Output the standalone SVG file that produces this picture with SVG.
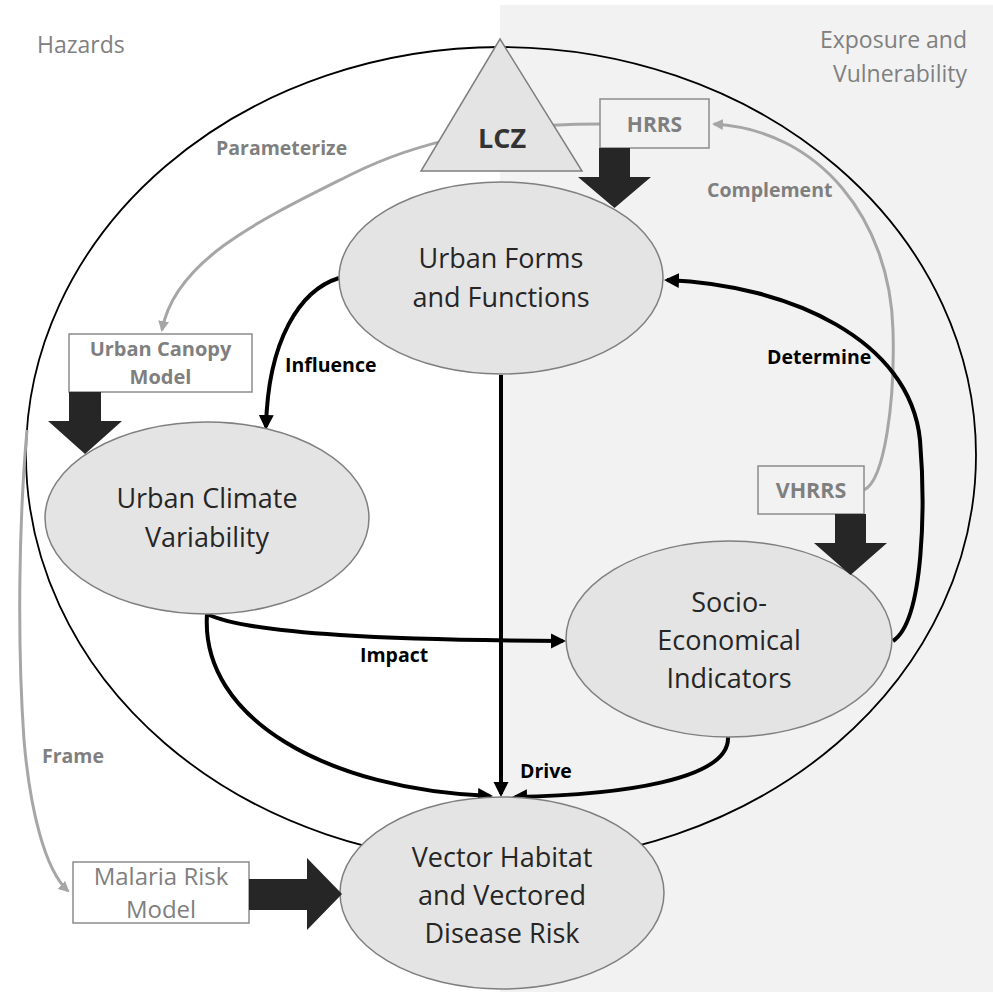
<svg xmlns="http://www.w3.org/2000/svg" width="993" height="994" viewBox="0 0 993 994">
<style>
.node{fill:#e4e4e4;stroke:#7f7f7f;stroke-width:1.5}
.nt{font-family:"Open Sans","Liberation Sans",sans-serif;font-size:27px;fill:#262626;text-anchor:middle}
.box{stroke:#8c8c8c;stroke-width:1.5}
.bt{font-family:"Open Sans","Liberation Sans",sans-serif;font-weight:bold;fill:#7f7f7f;text-anchor:middle}
.blk{fill:#262626}
.bc{fill:none;stroke:#000;stroke-width:4}
.gc{fill:none;stroke:#a6a6a6;stroke-width:3}
.lb{font-family:"Open Sans","Liberation Sans",sans-serif;font-weight:bold;font-size:19.5px;fill:#000}
.lg{font-family:"Open Sans","Liberation Sans",sans-serif;font-weight:bold;font-size:19.5px;fill:#7f7f7f}
.zone{font-family:"Open Sans","Liberation Sans",sans-serif;font-size:23px;fill:#808080}
</style>
<defs>
<marker id="ab" markerUnits="userSpaceOnUse" markerWidth="16" markerHeight="16" refX="12" refY="7.5" orient="auto">
<path d="M0,0 L15,7.5 L0,15 z" fill="#000"/>
</marker>
<marker id="ag" markerUnits="userSpaceOnUse" markerWidth="14" markerHeight="14" refX="9" refY="5.5" orient="auto">
<path d="M0,0 L11,5.5 L0,11 z" fill="#a6a6a6"/>
</marker>
</defs>
<rect x="500" y="5" width="493" height="987" fill="#f2f2f2"/>
<ellipse cx="501" cy="455" rx="475" ry="408" fill="none" stroke="#000" stroke-width="1.8"/>
<text class="zone" x="37" y="53">Hazards</text>
<text class="zone" x="967" y="48" text-anchor="end">Exposure and</text>
<text class="zone" x="967" y="82" text-anchor="end">Vulnerability</text>
<g id="connectors">
<path class="gc" d="M600,124 C500,124 420,140 350,175 C260,220 175,260 162,330" marker-end="url(#ag)"/>
<path class="gc" d="M864,490 C885,480 895,400 893,330 C890,220 820,130 714,124" marker-end="url(#ag)"/>
<path class="gc" d="M27,430 C19,520 17,640 24,740 C30,810 45,870 68,891" marker-end="url(#ag)"/>
<path class="bc" d="M339,278 C300,290 268,340 266,427" marker-end="url(#ab)"/>
<path class="bc" d="M501,375 L501,794" marker-end="url(#ab)"/>
<path class="bc" d="M207,614 C250,635 400,640 563,641" marker-end="url(#ab)"/>
<path class="bc" d="M207,614 C200,720 330,790 490,796" marker-end="url(#ab)"/>
<path class="bc" d="M728,737 C730,780 620,795 515,797" marker-end="url(#ab)"/>
<path class="bc" d="M893,641 C925,620 925,500 920,440 C910,340 790,285 667,280" marker-end="url(#ab)"/>
<text class="lg" x="216" y="155">Parameterize</text>
<text class="lg" x="707" y="197">Complement</text>
<text class="lg" x="42" y="763">Frame</text>
<text class="lb" x="285" y="372">Influence</text>
<text class="lb" x="767" y="364">Determine</text>
<text class="lb" x="360" y="662">Impact</text>
<text class="lb" x="520" y="778">Drive</text>
</g>
<g id="lcz">
<polygon class="node" points="500,39 582,171 421,171"/>
<text x="502" y="148" font-family="'Open Sans','Liberation Sans',sans-serif" font-weight="bold" font-size="27" fill="#333" text-anchor="middle">LCZ</text>
</g>
<g id="urban-forms">
<ellipse class="node" cx="501" cy="278" rx="162" ry="96"/>
<text class="nt" x="501" y="268">Urban Forms</text>
<text class="nt" x="501" y="307">and Functions</text>
</g>
<g id="urban-climate">
<ellipse class="node" cx="207" cy="518" rx="162" ry="96"/>
<text class="nt" x="207" y="508">Urban Climate</text>
<text class="nt" x="207" y="547">Variability</text>
</g>
<g id="socio">
<ellipse class="node" cx="729" cy="639" rx="163" ry="98"/>
<text class="nt" x="729" y="612">Socio-</text>
<text class="nt" x="729" y="650">Economical</text>
<text class="nt" x="729" y="688">Indicators</text>
</g>
<g id="vector">
<ellipse class="node" cx="502" cy="893" rx="162" ry="96"/>
<text class="nt" x="502" y="867">Vector Habitat</text>
<text class="nt" x="502" y="905">and Vectored</text>
<text class="nt" x="502" y="943">Disease Risk</text>
</g>
<g id="hrrs">
<rect class="box" x="600" y="99" width="109" height="49" fill="#f2f2f2"/>
<text class="bt" x="654.5" y="132" font-size="21">HRRS</text>
<polygon class="blk" points="599,148 630,148 630,177 651,177 614.5,208 578,177 599,177"/>
</g>
<g id="urban-canopy">
<rect class="box" x="69" y="334" width="183" height="58" fill="#fff"/>
<text class="bt" x="160.5" y="356" font-size="20">Urban Canopy</text>
<text class="bt" x="160.5" y="384" font-size="20">Model</text>
<polygon class="blk" points="69,392 101,392 101,421 122,421 85,454 48,421 69,421"/>
</g>
<g id="vhrrs">
<rect class="box" x="758" y="466" width="106" height="48" fill="#f2f2f2"/>
<text class="bt" x="811" y="498" font-size="21.5">VHRRS</text>
<polygon class="blk" points="835,514 866,514 866,543 887,543 850.5,575 814,543 835,543"/>
</g>
<g id="malaria">
<rect class="box" x="73" y="862" width="176" height="61" fill="#fff"/>
<text x="161" y="885" font-family="'Open Sans','Liberation Sans',sans-serif" font-size="24" fill="#7f7f7f" text-anchor="middle">Malaria Risk</text>
<text x="161" y="918" font-family="'Open Sans','Liberation Sans',sans-serif" font-size="24" fill="#7f7f7f" text-anchor="middle">Model</text>
<polygon class="blk" points="249,879 307,879 307,858 342,894 307,930 307,910 249,910"/>
</g>
</svg>
